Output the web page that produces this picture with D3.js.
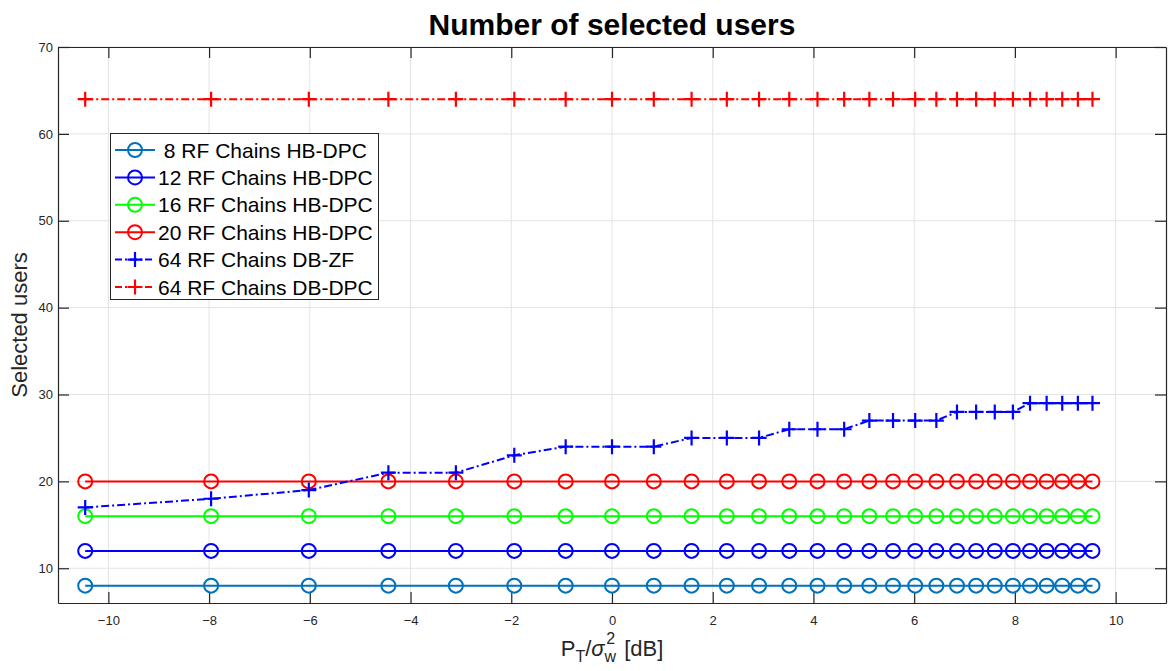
<!DOCTYPE html>
<html>
<head>
<meta charset="utf-8">
<script src="https://cdn.jsdelivr.net/npm/d3@7"></script>
<style>
    body { margin: 0; background: #fff; }
    text { font-family: "Liberation Sans", Arial, sans-serif; }
</style>
</head>
<body>
<script>
//transmit power points (dB)
var xValues = [-10.46, -7.96, -6.02, -4.44, -3.10, -1.94, -0.92, 0, 0.83, 1.58,
    2.28, 2.92, 3.52, 4.08, 4.61, 5.11, 5.58, 6.02, 6.44, 6.85,
    7.23, 7.60, 7.96, 8.30, 8.63, 8.94, 9.25, 9.54];

//selected users per scheme
var rf8 = [8, 8, 8, 8, 8, 8, 8, 8, 8, 8, 8, 8, 8, 8, 8, 8, 8, 8, 8, 8, 8, 8, 8, 8, 8, 8, 8, 8];
var rf12 = [12, 12, 12, 12, 12, 12, 12, 12, 12, 12, 12, 12, 12, 12, 12, 12, 12, 12, 12, 12, 12, 12, 12, 12, 12, 12, 12, 12];
var rf16 = [16, 16, 16, 16, 16, 16, 16, 16, 16, 16, 16, 16, 16, 16, 16, 16, 16, 16, 16, 16, 16, 16, 16, 16, 16, 16, 16, 16];
var rf20 = [20, 20, 20, 20, 20, 20, 20, 20, 20, 20, 20, 20, 20, 20, 20, 20, 20, 20, 20, 20, 20, 20, 20, 20, 20, 20, 20, 20];
var dbZf = [17, 18, 19, 21, 21, 23, 24, 24, 24, 25, 25, 25, 26, 26, 26, 27, 27, 27, 27, 28, 28, 28, 28, 29, 29, 29, 29, 29];
var dbDpc = [64, 64, 64, 64, 64, 64, 64, 64, 64, 64, 64, 64, 64, 64, 64, 64, 64, 64, 64, 64, 64, 64, 64, 64, 64, 64, 64, 64];

var seriesNames = [" 8 RF Chains HB-DPC", "12 RF Chains HB-DPC", "16 RF Chains HB-DPC",
    "20 RF Chains HB-DPC", "64 RF Chains DB-ZF", "64 RF Chains DB-DPC"];

var xTicks = [-10, -8, -6, -4, -2, 0, 2, 4, 6, 8, 10];
var yTicks = [10, 20, 30, 40, 50, 60, 70];

function drawChart() {
    var width = 1168,
        height = 671;
    var margin = { top: 47, right: 2, bottom: 68, left: 58 };
    var innerW = width - margin.left - margin.right,
        innerH = height - margin.top - margin.bottom;

    var svg = d3.select("body")
        .append("svg")
        .attr("width", width)
        .attr("height", height);

    var g = svg.append("g")
        .attr("transform", `translate(${margin.left},${margin.top})`);

    var x = d3.scaleLinear().domain([-11, 11]).range([0, innerW]);
    var y = d3.scaleLinear().domain([6, 70]).range([innerH, 0]);

    //grid
    g.selectAll(".gx").data(xTicks).join("line")
        .attr("x1", d => x(d)).attr("x2", d => x(d))
        .attr("y1", 0).attr("y2", innerH)
        .attr("stroke", "#e3e3e3").attr("stroke-width", 1);
    g.selectAll(".gy").data(yTicks).join("line")
        .attr("x1", 0).attr("x2", innerW)
        .attr("y1", d => y(d)).attr("y2", d => y(d))
        .attr("stroke", "#e3e3e3").attr("stroke-width", 1);

    //axes, matlab style ticks pointing inside
    var tl = 11;
    var axStyle = function (sel) {
        sel.select(".domain").attr("stroke", "#262626").attr("stroke-width", 1.2);
        sel.selectAll(".tick line").attr("stroke", "#262626").attr("stroke-width", 1.2);
        sel.selectAll(".tick text").attr("fill", "#262626").style("font-size", "13px");
    };
    g.append("g")
        .attr("transform", `translate(0,${innerH})`)
        .call(d3.axisBottom(x).tickValues(xTicks).tickSizeInner(-tl).tickSizeOuter(0).tickPadding(13))
        .call(axStyle);
    g.append("g")
        .call(d3.axisTop(x).tickValues(xTicks).tickSizeInner(-tl).tickSizeOuter(0).tickFormat(""))
        .call(axStyle);
    g.append("g")
        .call(d3.axisLeft(y).tickValues(yTicks).tickSizeInner(-tl).tickSizeOuter(0).tickPadding(5))
        .call(axStyle);
    g.append("g")
        .attr("transform", `translate(${innerW},0)`)
        .call(d3.axisRight(y).tickValues(yTicks).tickSizeInner(-tl).tickSizeOuter(0).tickFormat(""))
        .call(axStyle);

    var series = [
        { name: seriesNames[0], vals: rf8, color: "#0072BD", marker: "o", dash: null },
        { name: seriesNames[1], vals: rf12, color: "#0000FF", marker: "o", dash: null },
        { name: seriesNames[2], vals: rf16, color: "#00FF00", marker: "o", dash: null },
        { name: seriesNames[3], vals: rf20, color: "#FF0000", marker: "o", dash: null },
        { name: seriesNames[4], vals: dbZf, color: "#0000FF", marker: "+", dash: "8,3,2,3" },
        { name: seriesNames[5], vals: dbDpc, color: "#FF0000", marker: "+", dash: "8,3,2,3" }
    ];

    var line = d3.line()
        .x(d => x(d[0]))
        .y(d => y(d[1]));

    function drawMarker(sel, s, px, py) {
        if (s.marker === "o") {
            sel.append("circle")
                .attr("cx", px).attr("cy", py).attr("r", 7)
                .attr("fill", "none").attr("stroke", s.color).attr("stroke-width", 2);
        } else {
            sel.append("path")
                .attr("d", `M${px - 7.5},${py}H${px + 7.5}M${px},${py - 7.5}V${py + 7.5}`)
                .attr("stroke", s.color).attr("stroke-width", 2.2);
        }
    }

    series.forEach(function (s) {
        var pts = xValues.map((xv, i) => [xv, s.vals[i]]);
        var sg = g.append("g");
        sg.append("path")
            .attr("d", line(pts))
            .attr("fill", "none")
            .attr("stroke", s.color)
            .attr("stroke-width", 2)
            .attr("stroke-dasharray", s.dash);
        pts.forEach(function (p) {
            drawMarker(sg, s, x(p[0]), y(p[1]));
        });
    });

    //legend
    var lg = svg.append("g").attr("transform", "translate(110,133)");
    lg.append("rect")
        .attr("x", 0.5).attr("y", 0.5)
        .attr("width", 268).attr("height", 166)
        .attr("fill", "#fff").attr("stroke", "#262626").attr("stroke-width", 1);
    series.forEach(function (s, i) {
        var cy = 17 + i * 27.4;
        lg.append("line")
            .attr("x1", 5).attr("x2", 45)
            .attr("y1", cy).attr("y2", cy)
            .attr("stroke", s.color).attr("stroke-width", 2)
            .attr("stroke-dasharray", s.dash ? "7,3,2,3" : null);
        drawMarker(lg, s, 25, cy);
        lg.append("text")
            .attr("x", 48).attr("y", cy)
            .attr("dy", "0.36em")
            .attr("xml:space", "preserve")
            .style("white-space", "pre")
            .style("font-size", "21px")
            .attr("fill", "#000")
            .text(s.name);
    });

    //title
    svg.append("text")
        .attr("x", margin.left + innerW / 2)
        .attr("y", 35)
        .attr("text-anchor", "middle")
        .style("font-size", "30px")
        .style("font-weight", "bold")
        .text("Number of selected users");

    //y label
    svg.append("text")
        .attr("transform", `translate(27,${margin.top + innerH / 2}) rotate(-90)`)
        .attr("text-anchor", "middle")
        .style("font-size", "22px")
        .attr("fill", "#262626")
        .text("Selected users");

    //x label with sub/superscripts
    var xl = svg.append("text")
        .attr("x", margin.left + innerW / 2)
        .attr("y", 656)
        .attr("text-anchor", "middle")
        .style("font-size", "22px")
        .attr("fill", "#262626");
    xl.append("tspan").text("P");
    xl.append("tspan").attr("dy", 6).style("font-size", "16px").text("T");
    xl.append("tspan").attr("dy", -6).text("/");
    xl.append("tspan").style("font-style", "italic").text("σ");
    xl.append("tspan").attr("dy", 6).style("font-size", "16px").text("w");
    xl.append("tspan").attr("dy", -18).attr("dx", -10).style("font-size", "16px").text("2");
    xl.append("tspan").attr("dy", 12).attr("dx", 3).text(" [dB]");
}

window.onload = drawChart();
</script>
</body>
</html>
